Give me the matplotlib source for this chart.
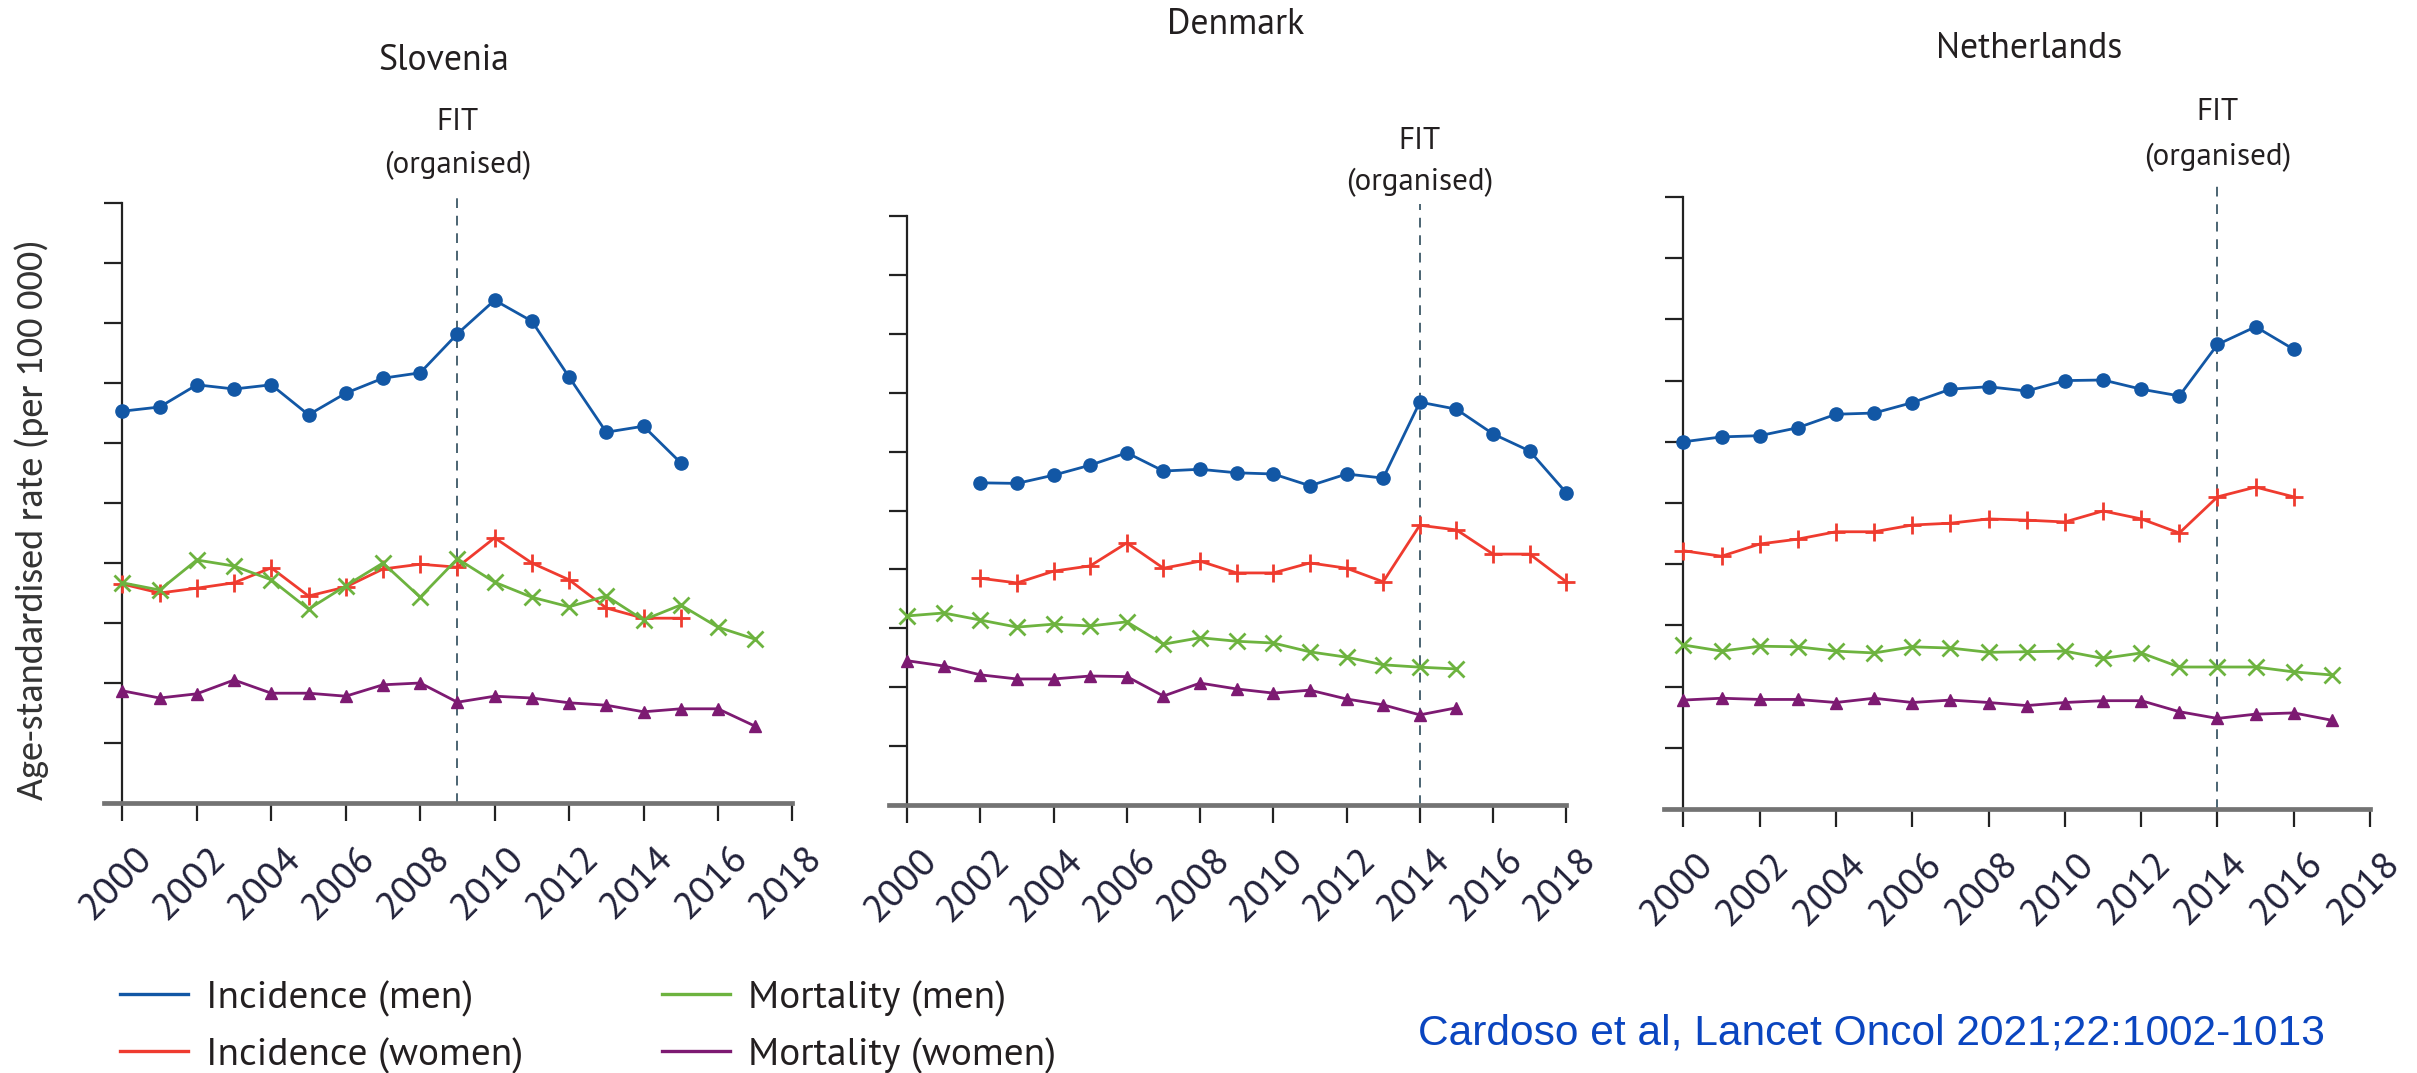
import numpy as np
import matplotlib
matplotlib.use('Agg')
import matplotlib.pyplot as plt
import matplotlib.transforms as mtransforms
from matplotlib import font_manager
from matplotlib.lines import Line2D

#=====================================================================
#     Data (age-standardised rate, per 100 000)
#
countries = ['Slovenia', 'Denmark', 'Netherlands']
fit_years = [2009, 2014, 2014]

slo_inc_men = [65.3, 66.0, 69.7, 69.0, 69.7, 64.7, 68.3, 70.8, 71.7, 78.2,
               83.8, 80.3, 71.0, 61.8, 62.8, 56.7]
slo_inc_women = [36.5, 35.0, 35.8, 36.7, 39.2, 34.5, 36.0, 39.0, 39.8, 39.3,
                 44.2, 40.0, 37.2, 32.5, 30.8, 30.8]
slo_mort_men = [36.7, 35.5, 40.5, 39.5, 37.2, 32.3, 36.2, 40.0, 34.3, 40.7,
                36.8, 34.3, 32.7, 34.5, 30.5, 33.0, 29.3, 27.3]
slo_mort_women = [18.7, 17.5, 18.2, 20.5, 18.3, 18.3, 17.8, 19.7, 20.0, 16.8,
                  17.8, 17.5, 16.7, 16.3, 15.2, 15.7, 15.7, 12.8]
slo_start = [2000, 2000, 2000, 2000]

den_inc_men = [54.7, 54.6, 56.0, 57.7, 59.8, 56.7, 57.0, 56.4, 56.2, 54.2,
               56.2, 55.5, 68.4, 67.2, 63.0, 60.1, 53.0]
den_inc_women = [38.5, 37.7, 39.7, 40.6, 44.5, 40.2, 41.4, 39.4, 39.4, 41.1,
                 40.2, 37.9, 47.5, 46.7, 42.6, 42.6, 37.9]
den_mort_men = [32.1, 32.6, 31.4, 30.2, 30.7, 30.4, 31.1, 27.3, 28.4, 27.8,
                27.5, 26.0, 25.1, 23.8, 23.4, 23.1]
den_mort_women = [24.5, 23.6, 22.1, 21.4, 21.4, 21.9, 21.8, 18.5, 20.7, 19.7,
                  19.0, 19.5, 18.0, 17.0, 15.3, 16.5]
den_start = [2002, 2002, 2000, 2000]

ned_inc_men = [60.0, 60.8, 61.0, 62.3, 64.5, 64.7, 66.4, 68.6, 69.0, 68.3,
               70.0, 70.1, 68.6, 67.5, 75.9, 78.8, 75.1]
ned_inc_women = [42.2, 41.3, 43.3, 44.1, 45.3, 45.3, 46.4, 46.7, 47.4, 47.2,
                 46.9, 48.7, 47.4, 45.1, 51.0, 52.6, 51.0]
ned_mort_men = [26.8, 25.8, 26.6, 26.5, 25.8, 25.5, 26.5, 26.3, 25.6, 25.7,
                25.8, 24.6, 25.5, 23.2, 23.2, 23.2, 22.4, 21.9]
ned_mort_women = [17.8, 18.1, 17.9, 17.9, 17.4, 18.1, 17.4, 17.8, 17.4, 16.9,
                  17.4, 17.7, 17.7, 15.9, 14.8, 15.5, 15.7, 14.5]
ned_start = [2000, 2000, 2000, 2000]

series_labels = ['Incidence (men)', 'Incidence (women)',
                 'Mortality (men)', 'Mortality (women)']
year_ticks = list(range(2000, 2019, 2))
ylabel = 'Age-standardised rate (per 100 000)'
citation = 'Cardoso et al, Lancet Oncol 2021;22:1002-1013'
#=====================================================================

panels = [
    [slo_inc_men, slo_inc_women, slo_mort_men, slo_mort_women],
    [den_inc_men, den_inc_women, den_mort_men, den_mort_women],
    [ned_inc_men, ned_inc_women, ned_mort_men, ned_mort_women],
]
starts = [slo_start, den_start, ned_start]

#=====================================================================
#     Styling / layout (pixel positions in the 2417 x 1073 image)
#
W, H = 2417, 1073
colors  = ['#1257a5', '#ef3b2f', '#6db33f', '#7d1a72']
markers = ['o', '+', 'x', '^']
msizes  = [9.5, 13, 11, 8.5]
mews    = [1, 2.0, 2.0, 1]

# (left, top, right, bottom) of each axes box in pixels; left = year 1999.5
boxes     = [(103.8, 203, 792.4, 803), (888.8, 216, 1566.3, 805),
             (1664.3, 197, 2370.1, 809)]
titles_xy = [(444, 60), (1236, 25), (2029, 48)]
title_w   = [128, 138, 191]
fit_y     = [(122, 165), (141, 182), (112, 157)]

installed = {f.name for f in font_manager.fontManager.ttflist}


def pick(*names):
    return [n for n in names if n in installed][:1] + ['DejaVu Sans']


head_font = pick('PT Sans', 'Open Sans')
label_font = pick('Carlito', 'Open Sans')
cite_font = pick('Liberation Sans', 'Arimo')

txt_col = '#231f20'


def fx(x):
    return x / W


def fy(y):
    return 1 - y / H


fig = plt.figure(figsize=(W / 100, H / 100), dpi=100)
renderer = fig.canvas.get_renderer()


def size_for(s, family, target, rotation=0, along='width'):
    # font size that makes string s span target pixels
    t = fig.text(0, 0, s, fontsize=10, family=family, rotation=rotation)
    bb = t.get_window_extent(renderer)
    t.remove()
    return 10 * target / (bb.width if along == 'width' else bb.height)


title_size = np.mean([size_for(c, head_font, w) for c, w in zip(countries, title_w)])
fit_size = size_for('(organised)', head_font, 148)
tick_size = 1.3 * size_for('2000', head_font, 67, rotation=45)
leg_size = size_for(series_labels[0], head_font, 269)
ylab_size = size_for(ylabel, label_font, 563, rotation=90, along='height')
cite_size = size_for(citation, cite_font, 911)

for i, country in enumerate(countries):
    l, t, r, b = boxes[i]
    ax = fig.add_axes([fx(l), fy(b), (r - l) / W, (b - t) / H])

    for k in range(4):
        vals = panels[i][k]
        yrs = np.arange(starts[i][k], starts[i][k] + len(vals))
        ax.plot(yrs, vals, color=colors[k], marker=markers[k], ms=msizes[k],
                mew=mews[k], lw=2.0, clip_on=False, zorder=3)

    ax.set_xlim(1999.5, 2018)
    ax.set_ylim(0, 100)
    ax.spines['top'].set_visible(False)
    ax.spines['right'].set_visible(False)
    ax.spines['left'].set_position(('data', 2000))
    ax.spines['left'].set_linewidth(1.6)
    ax.spines['left'].set_color('#222222')
    ax.spines['bottom'].set_linewidth(3.4)
    ax.spines['bottom'].set_color('#737373')

    ax.set_yticks(np.arange(0, 101, 10))
    ax.set_yticklabels([])
    ax.tick_params(axis='y', direction='out', length=13, width=1.6, color='#222222')
    ax.set_xticks(year_ticks)
    ax.set_xticklabels([str(y) for y in year_ticks], rotation=45, ha='right',
                       va='top', rotation_mode='anchor', fontsize=tick_size,
                       color='#22223a', family=head_font)
    ax.tick_params(axis='x', direction='out', length=13, width=1.6,
                   color='#222222', pad=14)
    offset = mtransforms.ScaledTranslation(12 / 100, 0, fig.dpi_scale_trans)
    for lab in ax.get_xticklabels():
        lab.set_transform(lab.get_transform() + offset)

    # FIT (organised) marker
    fyear = fit_years[i]
    ax.axvline(fyear, ymin=0, ymax=1 + 12 / (b - t), color='#4b6472', lw=1.4,
               dashes=(5, 4), clip_on=False, zorder=2)
    xline = l + (fyear - 1999.5) / 18.5 * (r - l)
    fig.text(fx(xline), fy(fit_y[i][0]), 'FIT', ha='center', va='center',
             fontsize=fit_size, color=txt_col, family=head_font)
    fig.text(fx(xline), fy(fit_y[i][1]), '(organised)', ha='center', va='center',
             fontsize=fit_size, color=txt_col, family=head_font)

    tx, ty = titles_xy[i]
    fig.text(fx(tx), fy(ty), country, ha='center', va='center',
             fontsize=title_size, color=txt_col, family=head_font)

fig.text(fx(32), fy(520), ylabel, rotation=90, ha='center', va='center',
         fontsize=ylab_size, color='#333333', family=label_font)

# legend: two columns, incidence on the left, mortality on the right
leg_px = leg_size * 100 / 72
handles = [Line2D([], [], color=c, lw=2.4) for c in colors]
for j, x0 in enumerate([120, 662]):
    leg = fig.legend(handles[2 * j:2 * j + 2], series_labels[2 * j:2 * j + 2],
                     loc='center left', bbox_to_anchor=(fx(x0), fy(1027)),
                     frameon=False, handlelength=68 / leg_px,
                     handletextpad=18 / leg_px, labelspacing=0.52,
                     borderpad=0, borderaxespad=0,
                     prop={'family': head_font, 'size': leg_size})
    for tx_ in leg.get_texts():
        tx_.set_color(txt_col)

fig.text(fx(1418), fy(1034), citation, ha='left', va='center',
         fontsize=cite_size, color='#0a45c0', family=cite_font)

plt.savefig('out.png', dpi=100)
